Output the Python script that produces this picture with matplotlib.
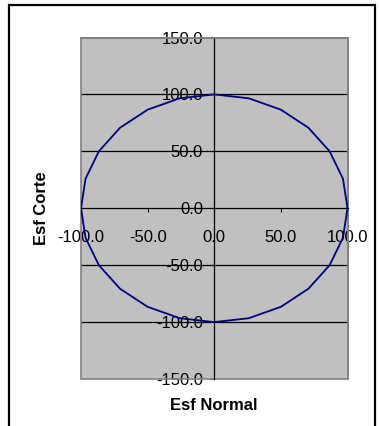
import matplotlib
matplotlib.use("Agg")
import matplotlib.pyplot as plt
from matplotlib.patches import Rectangle

# Data (closed curve of normal vs shear stress)
esf_normal = [100.0, 96.6, 86.6, 70.7, 50.0, 25.9, 0.0, -25.9, -50.0, -70.7, -86.6, -96.6,
              -100.0, -96.6, -86.6, -70.7, -50.0, -25.9, 0.0, 25.9, 50.0, 70.7, 86.6, 96.6, 100.0]
esf_corte = [0.0, 25.9, 50.0, 70.7, 86.6, 96.6, 100.0, 96.6, 86.6, 70.7, 50.0, 25.9,
             0.0, -25.9, -50.0, -70.7, -86.6, -96.6, -100.0, -96.6, -86.6, -70.7, -50.0, -25.9, 0.0]
x_ticks = [-100, -50, 0, 50, 100]
y_ticks = [-150, -100, -50, 0, 50, 100, 150]

plt.rcParams['font.family'] = ['Liberation Sans', 'DejaVu Sans']

W, H = 379, 426
fig = plt.figure(figsize=(W / 100, H / 100), dpi=100)
fig.patch.set_facecolor('white')

L, R, T, B = 81, 347.5, 37.5, 379
ax = fig.add_axes([L / W, 1 - B / H, (R - L) / W, (B - T) / H])
ax.set_facecolor('#C0C0C0')
ax.set_xlim(-100, 100)
ax.set_ylim(-150, 150)

# gridlines
for yv in [-100, -50, 50, 100]:
    ax.axhline(yv, color='#000000', lw=0.9, zorder=1)

ax.plot(esf_normal, esf_corte, color='#000080', lw=1.3, zorder=3)

# spines
ax.spines['left'].set_position(('data', 0))
ax.spines['bottom'].set_position(('data', 0))
ax.spines['left'].set_color('#000000')
ax.spines['bottom'].set_color('#000000')
ax.spines['left'].set_linewidth(0.9)
ax.spines['bottom'].set_linewidth(0.9)
for s in ['top', 'right']:
    ax.spines[s].set_color('#808080')
    ax.spines[s].set_linewidth(1.2)
ax.add_patch(Rectangle((0, 0), 1, 1, transform=ax.transAxes, fill=False,
                       edgecolor='#808080', lw=1.2, zorder=2, clip_on=False))

ax.set_xticks(x_ticks)
ax.set_yticks(y_ticks)
ax.set_xticklabels([f"{v:.1f}" for v in x_ticks])
ax.set_yticklabels([f"{v:.1f}" for v in y_ticks])
ax.tick_params(axis='x', direction='out', length=3, width=0.8, pad=13, labelsize=12,
               colors='black')
ax.tick_params(axis='y', direction='out', length=3, width=0.8, pad=5, labelsize=12,
               colors='black')
for lab in ax.get_xticklabels() + ax.get_yticklabels():
    lab.set_zorder(5)

fig.text(214 / W, 1 - 406 / H, 'Esf Normal', ha='center', va='center',
         fontsize=12, fontweight='bold')
fig.text(42 / W, 1 - 208 / H, 'Esf Corte', ha='center', va='center',
         fontsize=12, fontweight='bold', rotation=90)

# outer frame
fig.add_artist(Rectangle((9 / W, -0.05), (375 - 9) / W, 1.05 - 4.5 / H,
                         transform=fig.transFigure, fill=False, edgecolor='black',
                         lw=1.6))

fig.savefig('out.png', dpi=100)
